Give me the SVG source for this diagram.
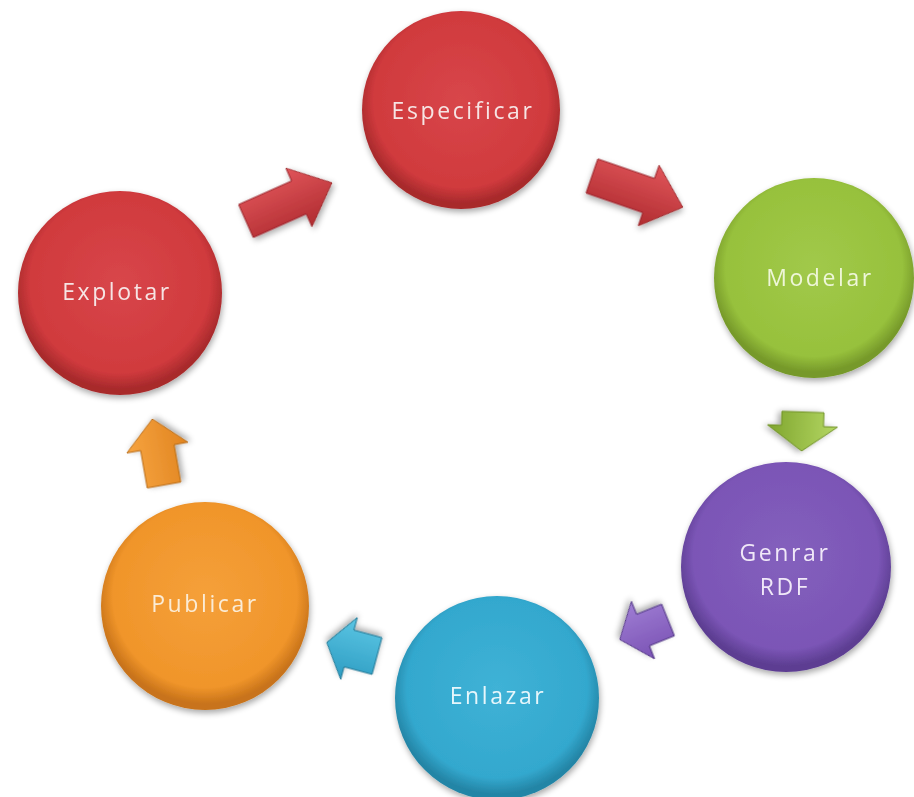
<svg xmlns="http://www.w3.org/2000/svg" width="914" height="797" viewBox="0 0 914 797">
<style>
.lbl{font-family:"Open Sans","Liberation Sans",sans-serif;font-size:23px;letter-spacing:2.6px;text-anchor:middle;}
.arr{stroke-width:1;stroke-linejoin:round;}
</style>
<defs>
<filter id="sh" x="-20%" y="-20%" width="140%" height="140%">
<feGaussianBlur in="SourceAlpha" stdDeviation="3"/>
<feOffset dx="1" dy="3" result="b"/>
<feComponentTransfer><feFuncA type="linear" slope="0.35"/></feComponentTransfer>
<feMerge><feMergeNode/><feMergeNode in="SourceGraphic"/></feMerge>
</filter>
<radialGradient id="gRed" cx="50%" cy="45%" r="52%"><stop offset="0" stop-color="#d8464a"/><stop offset="0.85" stop-color="#d03a3d"/><stop offset="1" stop-color="#a82a2c"/></radialGradient>
<radialGradient id="gGreen" cx="50%" cy="45%" r="52%"><stop offset="0" stop-color="#a1c94a"/><stop offset="0.85" stop-color="#97c13c"/><stop offset="1" stop-color="#76992a"/></radialGradient>
<radialGradient id="gPurple" cx="50%" cy="45%" r="52%"><stop offset="0" stop-color="#8460bd"/><stop offset="0.85" stop-color="#7b55b6"/><stop offset="1" stop-color="#5d3e92"/></radialGradient>
<radialGradient id="gCyan" cx="50%" cy="45%" r="52%"><stop offset="0" stop-color="#3fb2d6"/><stop offset="0.85" stop-color="#33a8ce"/><stop offset="1" stop-color="#2485a6"/></radialGradient>
<radialGradient id="gOrange" cx="50%" cy="45%" r="52%"><stop offset="0" stop-color="#f5a03a"/><stop offset="0.85" stop-color="#f0952a"/><stop offset="1" stop-color="#c8731a"/></radialGradient>
<linearGradient id="aRed" x1="0" y1="0" x2="0" y2="1"><stop offset="0" stop-color="#e0555a"/><stop offset="1" stop-color="#b02c30"/></linearGradient>
<linearGradient id="aGreen" x1="0" y1="0" x2="0" y2="1"><stop offset="0" stop-color="#b4d763"/><stop offset="1" stop-color="#7fa52e"/></linearGradient>
<linearGradient id="aPurple" x1="0" y1="0" x2="0" y2="1"><stop offset="0" stop-color="#7a52b4"/><stop offset="1" stop-color="#9f7ed4"/></linearGradient>
<linearGradient id="aCyan" x1="0" y1="0" x2="0" y2="1"><stop offset="0" stop-color="#2d9cc2"/><stop offset="1" stop-color="#5cc6e4"/></linearGradient>
<linearGradient id="aOrange" x1="0" y1="0" x2="0" y2="1"><stop offset="0" stop-color="#f7a440"/><stop offset="1" stop-color="#e08420"/></linearGradient>
</defs>

<g id="connectors">
<path class="arr" fill="url(#aRed)" stroke="#9a2528" transform="translate(246,221) rotate(-24)" d="M0,-18 L58,-18 L58,-32 L94,0 L58,32 L58,18 L0,18 Z" filter="url(#sh)"/>
<path class="arr" fill="url(#aRed)" stroke="#9a2528" transform="translate(592,176) rotate(19)" d="M0,-18 L60,-18 L60,-32 L96,0 L60,32 L60,18 L0,18 Z" filter="url(#sh)"/>
<path class="arr" fill="url(#aGreen)" stroke="#6e9025" transform="translate(803,412) rotate(92)" d="M0,-21 L14,-21 L14,-35 L39,0 L14,35 L14,21 L0,21 Z" filter="url(#sh)"/>
<path class="arr" fill="url(#aPurple)" stroke="#4d3080" transform="translate(668,620) rotate(158)" d="M0,-17 L27,-17 L27,-31 L52,0 L27,31 L27,17 L0,17 Z" filter="url(#sh)"/>
<path class="arr" fill="url(#aCyan)" stroke="#1f7592" transform="translate(377,656) rotate(195)" d="M0,-19 L29,-19 L29,-32 L52,0 L29,32 L29,19 L0,19 Z" filter="url(#sh)"/>
<path class="arr" fill="url(#aOrange)" stroke="#b86a15" transform="translate(164,485) rotate(-100)" d="M0,-17 L38,-17 L38,-31 L67,0 L38,31 L38,17 L0,17 Z" filter="url(#sh)"/>
</g>

<g id="especificar" filter="url(#sh)">
<circle cx="461" cy="110" r="99" fill="url(#gRed)"/>
<text class="lbl" x="463" y="119" fill="#f6e4e4">Especificar</text>
</g>
<g id="modelar" filter="url(#sh)">
<circle cx="814" cy="278" r="100" fill="url(#gGreen)"/>
<text class="lbl" x="820" y="286" fill="#eef6d8">Modelar</text>
</g>
<g id="genrar-rdf" filter="url(#sh)">
<circle cx="786" cy="567" r="105" fill="url(#gPurple)"/>
<text class="lbl" x="785" y="561" fill="#f0e8f8">Genrar</text>
<text class="lbl" x="785" y="595" fill="#f0e8f8">RDF</text>
</g>
<g id="enlazar" filter="url(#sh)">
<circle cx="497" cy="698" r="102" fill="url(#gCyan)"/>
<text class="lbl" x="498" y="704" fill="#e6f6fb">Enlazar</text>
</g>
<g id="publicar" filter="url(#sh)">
<circle cx="205" cy="606" r="104" fill="url(#gOrange)"/>
<text class="lbl" x="205" y="612" fill="#fbecd6">Publicar</text>
</g>
<g id="explotar" filter="url(#sh)">
<circle cx="120" cy="293" r="102" fill="url(#gRed)"/>
<text class="lbl" x="117" y="300" fill="#f6e4e4">Explotar</text>
</g>
</svg>
